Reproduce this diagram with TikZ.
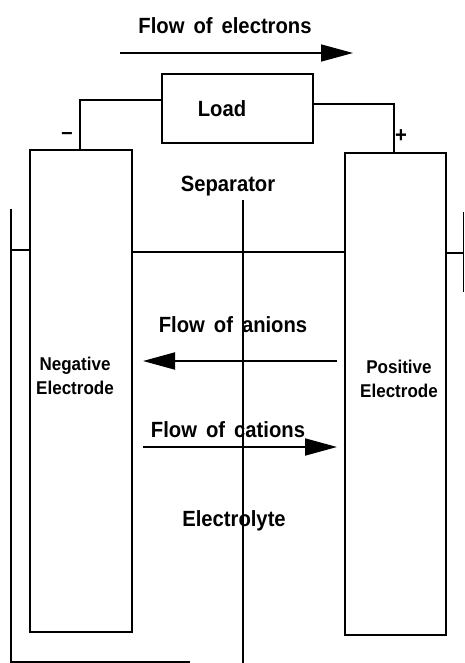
\documentclass[tikz,border=0pt]{standalone}
\usepackage{fontspec}
\newfontfamily\cadfont{Liberation Sans Bold}[FakeStretch=0.92,WordSpace=1.6]
\usetikzlibrary{arrows.meta}
\begin{document}
\begin{tikzpicture}[x=1pt,y=-1pt,
  line width=1.9pt,
  box/.style={draw,line width=1.9pt,inner sep=0pt},
  lbl/.style={inner sep=0pt,anchor=base,font=\cadfont\fontsize{22}{26}\selectfont},
  elbl/.style={inner sep=0pt,anchor=base,font=\cadfont\fontsize{18.5}{22}\selectfont},
  flow/.style={-{Triangle[length=32pt,width=17pt]},line width=1.9pt}]
\useasboundingbox (0,0) rectangle (464,663);
% electrodes and load
\node[box,minimum width=151pt,minimum height=69pt] (load) at (237.5,108.5) {};
\node[box,minimum width=102pt,minimum height=482pt] (neg) at (81,391) {};
\node[box,minimum width=101pt,minimum height=482pt] (pos) at (395.5,394) {};
% wires
\draw ([yshift=8.5pt]load.west) -| ([xshift=-1pt]neg.north);
\draw ([yshift=4.5pt]load.east) -| ([xshift=-1.5pt]pos.north);
% container
\coordinate (wallTop) at (11,209);
\coordinate (wallBot) at (11,662);
\coordinate (floorEnd) at (190,662);
\draw (wallTop) -- (wallBot) -- (floorEnd);
\coordinate (rwTop) at (463,212);
\coordinate (rwBot) at (463,292);
\draw[line width=0.8pt] (rwTop) -- (rwBot);
% electrolyte level
\coordinate (lvA) at (11,250);
\coordinate (lvB) at (30,250);
\draw (lvA) -- (lvB);
\draw (neg.east |- 0,252) -- (pos.west |- 0,252);
\coordinate (lvC) at (464,253);
\draw (pos.east |- 0,253) -- (lvC);
% separator
\coordinate (sepTop) at (243,200);
\coordinate (sepBot) at (243,663);
\draw (sepTop) -- (sepBot);
% texts
\node[lbl] (tel) at (225,34) {Flow of electrons};
\node[lbl] (tload) at (222,117) {Load};
\node[lbl] (tminus) at (67,140) {–};
\node[lbl] (tplus) at (401,143) {+};
\node[lbl] (tsep) at (228,191) {Separator};
\node[lbl] (tan) at (233,332) {Flow of anions};
\node[lbl] (tcat) at (228,437) {Flow of cations};
\node[lbl] (telec) at (234,526) {Electrolyte};
\node[elbl] (tneg1) at (75,370) {Negative};
\node[elbl] (tneg2) at (75,394) {Electrode};
\node[elbl] (tpos1) at (399,373) {Positive};
\node[elbl] (tpos2) at (399,397) {Electrode};
% flows
\coordinate (eA) at (120,53);
\coordinate (eB) at (353,53);
\draw[flow,line width=1.5pt] (eA) -- (eB);
\coordinate (aA) at (337,361);
\coordinate (aB) at (143,361);
\draw[flow] (aA) -- (aB);
\coordinate (cA) at (143,447);
\coordinate (cB) at (337,447);
\draw[flow] (cA) -- (cB);
\end{tikzpicture}
\end{document}
